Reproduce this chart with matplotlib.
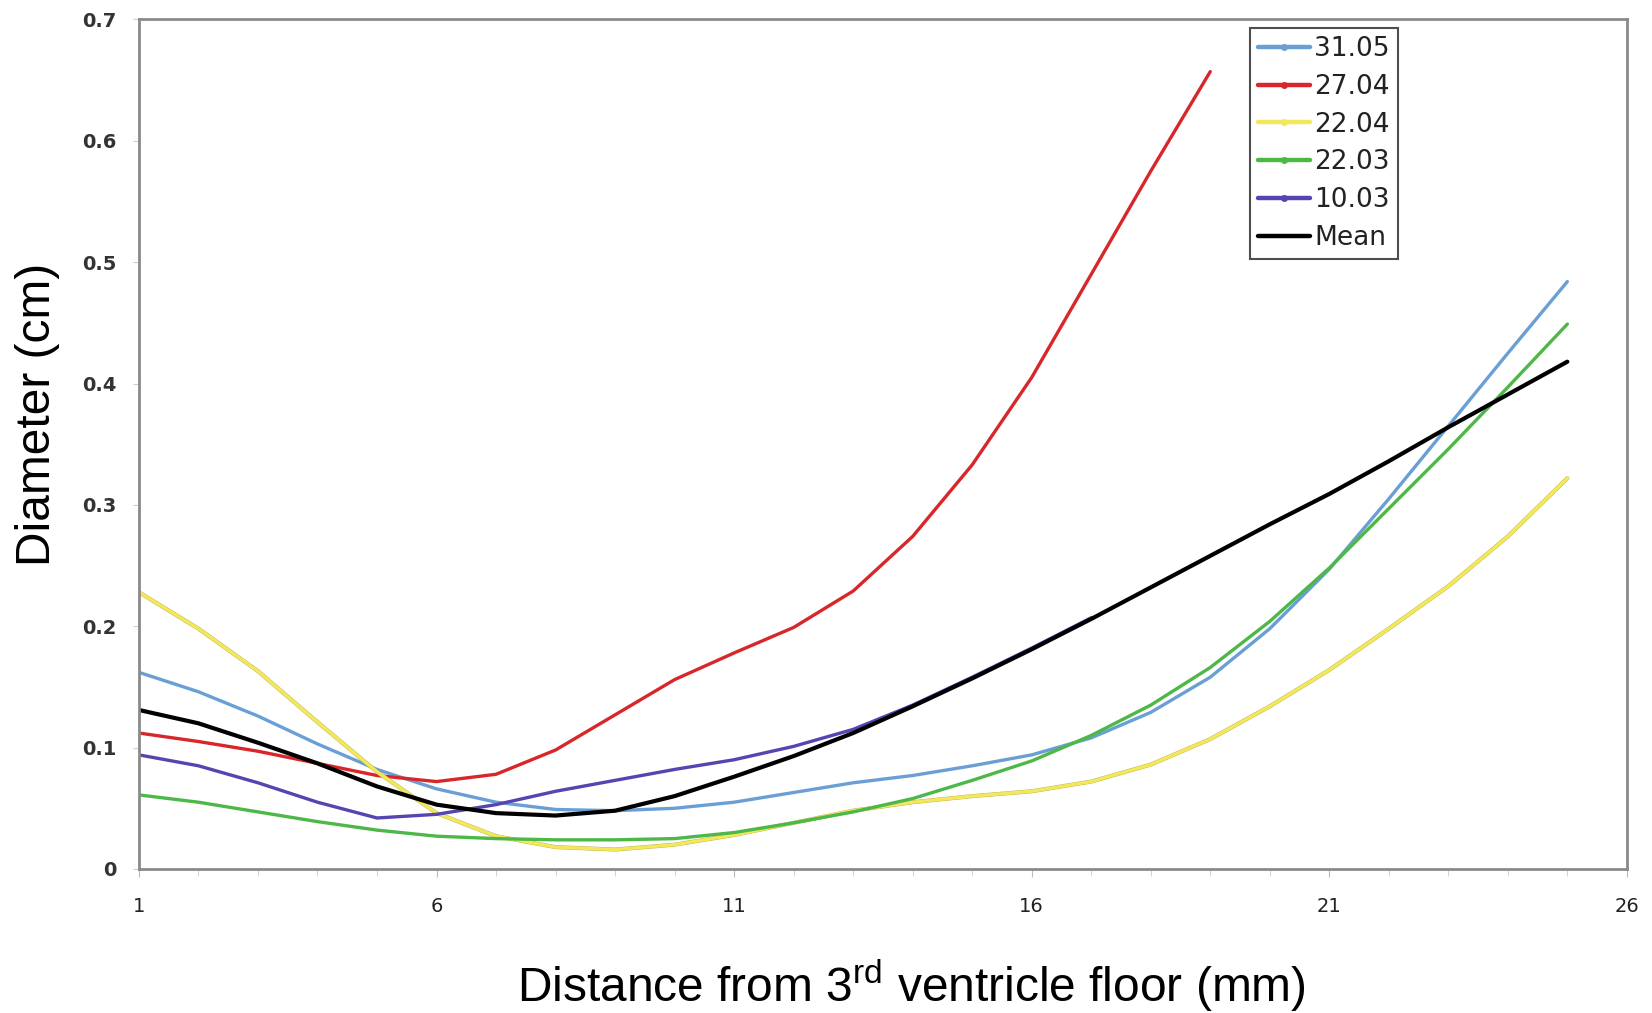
import numpy as np
import matplotlib
matplotlib.use('Agg')
import matplotlib.pyplot as plt
import matplotlib.patheffects as pe

# values, one per mm
dist = list(range(1, 26))

d3105 = [0.162, 0.146, 0.126, 0.103, 0.082, 0.066, 0.055, 0.049, 0.048, 0.050,
         0.055, 0.063, 0.071, 0.077, 0.085, 0.094, 0.108, 0.129, 0.158, 0.198,
         0.247, 0.305, 0.365, 0.425, 0.484]
d2704 = [0.112, 0.105, 0.097, 0.087, 0.077, 0.072, 0.078, 0.098, 0.127, 0.156,
         0.178, 0.199, 0.229, 0.274, 0.333, 0.405, 0.490, 0.575, 0.657]
d2204 = [0.228, 0.198, 0.163, 0.121, 0.080, 0.046, 0.027, 0.018, 0.016, 0.020,
         0.028, 0.038, 0.048, 0.055, 0.060, 0.064, 0.072, 0.086, 0.107, 0.134,
         0.164, 0.198, 0.233, 0.274, 0.322]
d2203 = [0.061, 0.055, 0.047, 0.039, 0.032, 0.027, 0.025, 0.024, 0.024, 0.025,
         0.030, 0.038, 0.047, 0.058, 0.073, 0.089, 0.110, 0.135, 0.166, 0.204,
         0.248, 0.297, 0.346, 0.397, 0.449]
d1003 = [0.094, 0.085, 0.071, 0.055, 0.042, 0.045, 0.053, 0.064, 0.073, 0.082,
         0.090, 0.101, 0.115, 0.135, 0.158, 0.182, 0.207]
mean = [0.131, 0.120, 0.104, 0.087, 0.068, 0.053, 0.046, 0.044, 0.048, 0.060,
        0.076, 0.093, 0.112, 0.134, 0.157, 0.181, 0.206, 0.232, 0.258, 0.284,
        0.309, 0.336, 0.364, 0.391, 0.418]

labels = ['31.05', '27.04', '22.04', '22.03', '10.03', 'Mean']
series = [d3105, d2704, d2204, d2203, d1003, mean]
colors = ['#6A9FD6', '#D8262A', '#F3E85A', '#4DB848', '#5644B0', '#000000']

plt.rcParams['mathtext.default'] = 'regular'

fig = plt.figure(figsize=(16.52, 10.13), dpi=100)
ax = fig.add_axes([0.0841, 0.1422, 0.9007, 0.8386])

for lab, ys, c in zip(labels, series, colors):
    xs = dist[:len(ys)]
    lw = 3.0 if lab == 'Mean' else 2.4
    line, = ax.plot(xs, ys, color=c, lw=lw, label=lab, solid_capstyle='round',
                    solid_joinstyle='round')
    if lab == '22.04':
        line.set_path_effects([pe.Stroke(linewidth=2.9, foreground='#b8ae55'),
                               pe.Normal()])

ax.set_xlim(1, 26)
ax.set_ylim(0, 0.7)
ax.set_xticks([1, 6, 11, 16, 21, 26])
ax.set_xticks(range(1, 27), minor=True)
ax.set_yticks(np.arange(0, 0.71, 0.1))
ax.set_yticklabels(['0', '0.1', '0.2', '0.3', '0.4', '0.5', '0.6', '0.7'])

for s in ax.spines.values():
    s.set_color('#8a8a8a')
    s.set_linewidth(2)

ax.tick_params(axis='x', which='major', length=6, color='#bbbbbb', pad=14,
               labelsize=14, labelcolor='#222222')
ax.tick_params(axis='x', which='minor', length=5, color='#cccccc')
ax.tick_params(axis='y', length=4, color='#cccccc', pad=12, labelsize=14,
               labelcolor='#333333')
for t in ax.get_yticklabels():
    t.set_fontweight('bold')

ax.set_ylabel('Diameter (cm)', fontsize=34.5, family='Liberation Sans')
ax.yaxis.set_label_coords(-0.053, 0.535)
ax.set_xlabel('Distance from 3$^{rd}$ ventricle floor (mm)', fontsize=34.5,
              family='Liberation Sans')
ax.xaxis.set_label_coords(0.519, -0.104)

leg = ax.legend(loc='upper left', bbox_to_anchor=(0.7465, 0.99), fontsize=19,
                frameon=True, fancybox=False, handlelength=2.0,
                handletextpad=0.15, borderpad=0.3, labelspacing=0.45,
                borderaxespad=0)
leg.get_frame().set_edgecolor('#222222')
leg.get_frame().set_linewidth(1.5)
for t in leg.get_texts():
    t.set_color('#222222')
for h, lab in zip(leg.get_lines(), labels):
    h.set_linewidth(3.2)
    h.set_path_effects([])
    if lab != 'Mean':
        h.set_marker('o')
        h.set_markersize(4)

fig.savefig('out.png', dpi=100)
